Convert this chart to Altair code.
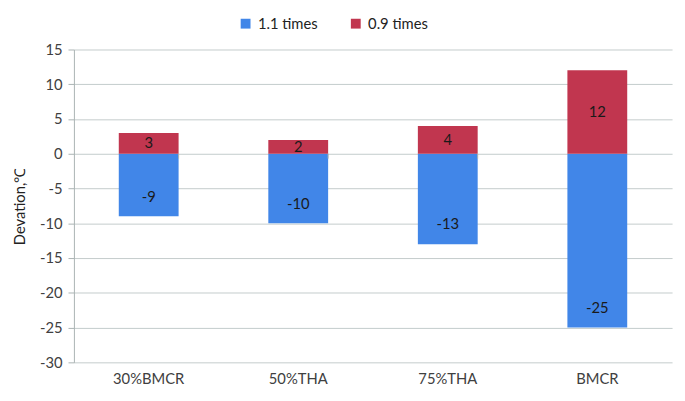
import altair as alt
import pandas as pd

categories = ["30%BMCR", "50%THA", "75%THA", "BMCR"]
series_names = ["1.1 times", "0.9 times"]
times_11 = [-9, -10, -13, -25]
times_09 = [3, 2, 4, 12]
y_ticks = [-30, -25, -20, -15, -10, -5, 0, 5, 10, 15]

colors = ["#4186e8", "#c1364f"]
FONT = "Lato"

rows = []
for c, a, b in zip(categories, times_11, times_09):
    rows.append({"cat": c, "series": series_names[0], "value": a})
    rows.append({"cat": c, "series": series_names[1], "value": b})
df = pd.DataFrame(rows)

x_axis = alt.Axis(labelAngle=0, labelFontSize=15, labelFont=FONT,
                  labelColor="#404040", labelPadding=10, ticks=False,
                  domain=False, grid=False)
x_scale = alt.Scale(paddingInner=0.6, paddingOuter=0.3)
y_scale = alt.Scale(domain=[-30, 15], nice=False, zero=True)
y_axis = alt.Axis(values=y_ticks, labelOverlap=False,
                  labelExpr="'' + datum.value",
                  labelFontSize=15, labelFont=FONT,
                  labelColor="#404040", titleFontSize=15, titleFont=FONT,
                  titleFontWeight="normal", titleColor="#222222",
                  titlePadding=12, labelPadding=6, tickSize=6,
                  tickColor="#a9b2b2", domainColor="#a9b2b2",
                  gridColor="#c3cbcb", grid=True)

def X():
    return alt.X("cat:N", sort=categories, title=None, scale=x_scale, axis=x_axis)

def Y(field):
    return alt.Y(field, scale=y_scale, stack=None, title="Devation,℃", axis=y_axis)

base = alt.Chart(df)

bars = base.mark_bar().encode(
    x=X(),
    y=Y("value:Q"),
    y2=alt.Y2(datum=0),
    color=alt.Color("series:N", scale=alt.Scale(domain=series_names, range=colors),
                    legend=alt.Legend(title=None, orient="none", direction="horizontal",
                                      legendX=167, legendY=-34, symbolType="square",
                                      symbolSize=100, symbolStrokeWidth=0,
                                      labelFontSize=15, labelFont=FONT,
                                      labelColor="#222222", labelOffset=5,
                                      columnPadding=31)),
)

neg_labels = base.transform_filter(alt.datum.value < 0).transform_calculate(
    lbl="'' + datum.value"
).mark_text(
    fontSize=15, font=FONT, color="#1a1a1a", baseline="middle", dy=-20
).encode(x=X(), y=Y("value:Q"), text="lbl:N")

pos_labels = base.transform_filter(alt.datum.value > 0).transform_calculate(
    mid="datum.value / 2", lbl="'' + datum.value"
).mark_text(fontSize=15, font=FONT, color="#1a1a1a", baseline="middle").encode(
    x=X(), y=Y("mid:Q"), text="lbl:N")

cat_df = pd.DataFrame({"cat": categories[:-1]})
cat_ticks = alt.Chart(cat_df).mark_rule(color="#a9b2b2").encode(
    x=alt.X("cat:N", sort=categories, bandPosition=1, title=None,
            scale=x_scale, axis=x_axis),
    y=alt.Y(datum=0, scale=y_scale, title="Devation,℃", axis=y_axis),
    y2=alt.Y2(datum=-0.7))

chart = alt.layer(bars, cat_ticks, neg_labels, pos_labels).properties(
    width=608, height=318
).configure_view(stroke=None)

chart.save("out.html", embed_options={"renderer": "svg", "actions": False})
